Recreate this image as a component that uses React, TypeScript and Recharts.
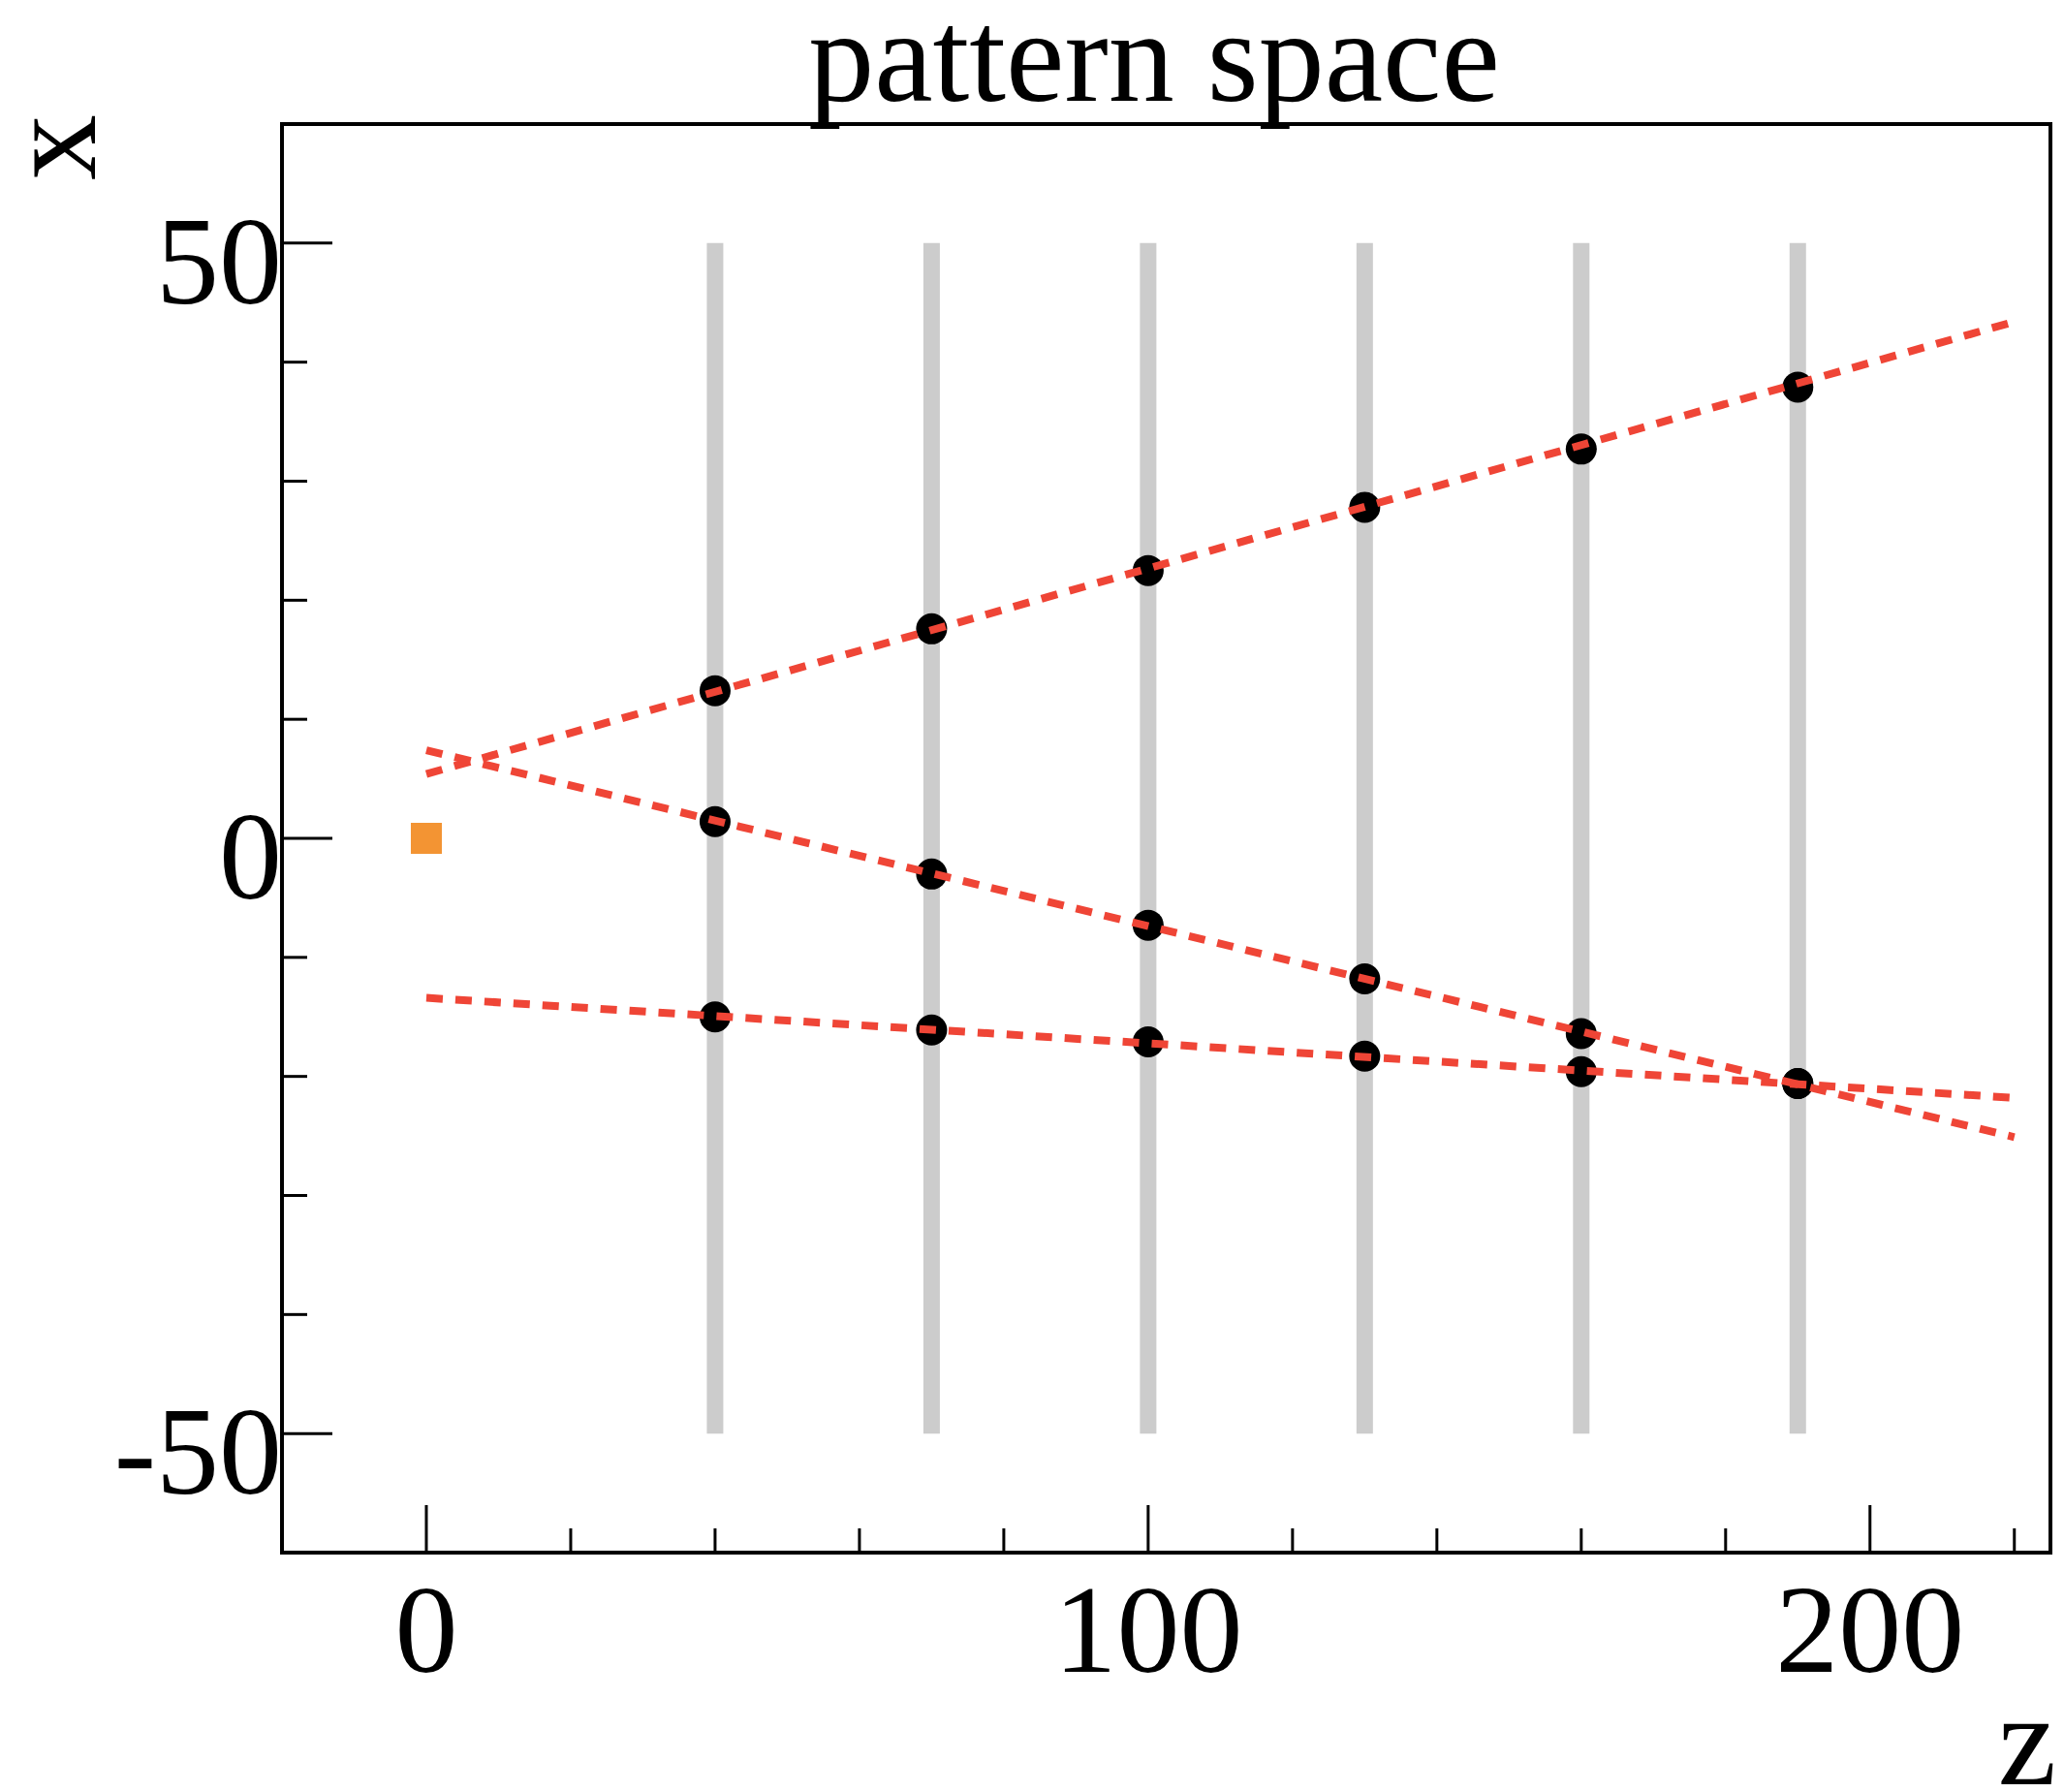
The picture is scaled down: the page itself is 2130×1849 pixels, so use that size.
import React from "react";
import { ComposedChart, Scatter, XAxis, YAxis, ReferenceArea } from "recharts";

// detector planes (z positions) and their extent in x
const planeZ = [40, 70, 100, 130, 160, 190];
const planeExtent = [-50, 50];

// hits per track, one per plane
const track1Hits = [12.4, 17.6, 22.5, 27.8, 32.7, 37.9];
const track2Hits = [1.4, -3.0, -7.3, -11.8, -16.4, -20.6];
const track3Hits = [-15.0, -16.1, -17.1, -18.3, -19.6, -20.6];

// fitted lines, x at the two ends
const fitZ = [0, 220];
const fit1 = [5.4, 43.4];
const fit2 = [7.4, -25.1];
const fit3 = [-13.4, -21.8];

const vertex = [{ z: 0, x: 0 }];

const xTicks = [0, 20, 40, 60, 80, 100, 120, 140, 160, 180, 200, 220];
const yTicks = [-50, -40, -30, -20, -10, 0, 10, 20, 30, 40, 50];

const FONT = "'Liberation Serif', 'Times New Roman', serif";
const RED = "#EF4536";

const W = 2130;
const H = 1849;

const toPoints = (zs: number[], xs: number[]) =>
  zs.map((z, i) => ({ z, x: xs[i] }));

const XTick = (props: any) => {
  const { x, y, payload } = props;
  const v = payload.value as number;
  const major = v % 100 === 0;
  return (
    <g>
      <line x1={x} y1={y} x2={x} y2={y - (major ? 49 : 25)} stroke="#000" strokeWidth={3} />
      {major && (
        <text x={x} y={y + 123} textAnchor="middle" fontSize={130} fontFamily={FONT} fill="#000">
          {v}
        </text>
      )}
    </g>
  );
};

const YTick = (props: any) => {
  const { x, y, payload } = props;
  const v = payload.value as number;
  const major = v % 50 === 0;
  return (
    <g>
      <line x1={x} y1={y} x2={x + (major ? 52 : 26)} y2={y} stroke="#000" strokeWidth={3} />
      {major && (
        <text x={x} y={y + 62} textAnchor="end" fontSize={130} fontFamily={FONT} fill="#000">
          {v}
        </text>
      )}
    </g>
  );
};

const Hit = (props: any) => <circle cx={props.cx} cy={props.cy} r={16} fill="#000" />;
const NoShape = () => <g />;
const VertexMark = (props: any) => (
  <rect x={props.cx - 16} y={props.cy - 16} width={32} height={32} fill="#F39433" />
);

const App = () => {
  const tracks = [track1Hits, track2Hits, track3Hits];
  const fits = [fit1, fit2, fit3];

  return (
    <div style={{ position: "absolute", left: 0, top: 0, width: W, height: H, background: "#fff" }}>
      <ComposedChart
        width={W}
        height={H}
        margin={{ top: 128, right: 14, bottom: 97, left: 141 }}
      >
        <XAxis
          type="number"
          dataKey="z"
          domain={[-20, 225]}
          ticks={xTicks}
          interval={0}
          allowDataOverflow
          axisLine={false}
          tickLine={false}
          tickSize={0}
          tickMargin={0}
          height={150}
          tick={(p: any) => <XTick {...p} />}
        />
        <YAxis
          type="number"
          dataKey="x"
          domain={[-60, 60]}
          ticks={yTicks}
          interval={0}
          allowDataOverflow
          axisLine={false}
          tickLine={false}
          tickSize={0}
          tickMargin={0}
          width={150}
          tick={(p: any) => <YTick {...p} />}
        />
        <ReferenceArea
          x1={-20}
          x2={225}
          y1={-60}
          y2={60}
          fill="none"
          fillOpacity={0}
          stroke="#000"
          strokeWidth={4}
          ifOverflow="visible"
        />
        {planeZ.map((z) => (
          <Scatter
            key={`plane-${z}`}
            data={planeExtent.map((x) => ({ z, x }))}
            line={{ stroke: "#CCCCCC", strokeWidth: 17 }}
            lineType="joint"
            shape={NoShape}
            isAnimationActive={false}
          />
        ))}
        {tracks.map((hits, i) => (
          <Scatter
            key={`hits-${i}`}
            data={toPoints(planeZ, hits)}
            shape={Hit}
            isAnimationActive={false}
          />
        ))}
        {fits.map((f, i) => (
          <Scatter
            key={`fit-${i}`}
            data={toPoints(fitZ, f)}
            line={{ stroke: RED, strokeWidth: 8, strokeDasharray: "17 13" }}
            lineType="joint"
            shape={NoShape}
            isAnimationActive={false}
          />
        ))}
        <Scatter data={vertex} shape={VertexMark} isAnimationActive={false} />
      </ComposedChart>

      <svg
        width={W}
        height={H}
        style={{ position: "absolute", left: 0, top: 0, pointerEvents: "none" }}
      >
        <text x={1191} y={104} textAnchor="middle" fontSize={136} fontFamily={FONT} fill="#000">
          pattern space
        </text>
        <text
          x={98}
          y={152}
          textAnchor="middle"
          fontSize={136}
          fontFamily={FONT}
          fill="#000"
          transform="rotate(-90 98 152)"
        >
          x
        </text>
        <text x={2122} y={1841} textAnchor="end" fontSize={136} fontFamily={FONT} fill="#000">
          z
        </text>
      </svg>
    </div>
  );
};

export default App;
